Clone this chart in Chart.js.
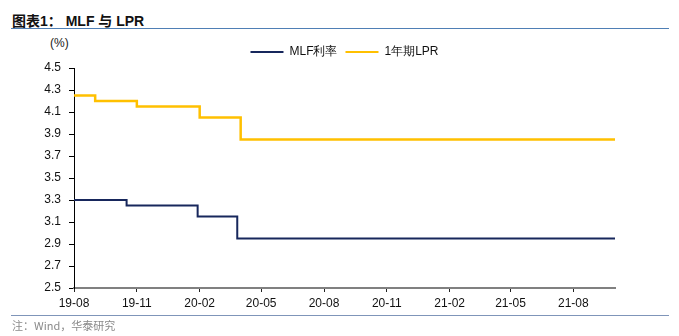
<!DOCTYPE html>
<html>
<head>
<meta charset="utf-8">
<script src="https://cdn.jsdelivr.net/npm/chart.js@4.4.0/dist/chart.umd.min.js"></script>
<style>
  html, body { margin: 0; padding: 0; background: #fff; }
  body { width: 679px; height: 336px; position: relative; overflow: hidden; font-family: "Liberation Sans", Arial, sans-serif; }
  #title { position: absolute; left: 12px; top: 10px; font-size: 14px; font-weight: bold; color: #111; font-family: "Liberation Sans", "Noto Sans CJK SC", sans-serif; }
  #titleLine { position: absolute; left: 11px; top: 28px; width: 658px; height: 0; border-top: 1.5px solid #4f7fb5; }
  #unit { position: absolute; left: 50px; top: 36px; font-size: 12px; color: #1a1a1a; }
  #footLine { position: absolute; left: 11px; top: 315px; width: 658px; height: 0; border-top: 1.5px solid #7f95b9; }
  #foot { position: absolute; left: 12px; top: 317px; font-size: 11px; color: #8a8a8a; font-family: "Noto Sans CJK SC", sans-serif; }
  #chart { position: absolute; left: 0; top: 0; }
</style>
</head>
<body>
<div id="title">图表1： MLF 与 LPR</div>
<div id="titleLine"></div>
<div id="unit">(%)</div>
<canvas id="chart" width="679" height="336"></canvas>
<div id="footLine"></div>
<div id="foot">注：Wind，华泰研究</div>
<script>
// data (rate changes, held until next change)
const mlfDates = ['2019-08-20', '2019-11-05', '2020-02-17', '2020-04-15', '2021-10-20'];
const mlfValues = [3.30, 3.25, 3.15, 2.95, 2.95];
const lprDates = ['2019-08-20', '2019-09-20', '2019-11-20', '2020-02-20', '2020-04-20', '2021-10-20'];
const lprValues = [4.25, 4.20, 4.15, 4.05, 3.85, 3.85];
const tickDates = ['2019-08-20', '2019-11-20', '2020-02-20', '2020-05-20', '2020-08-20', '2020-11-20', '2021-02-20', '2021-05-20', '2021-08-20'];
const startDate = '2019-08-20';
const endDate = '2021-10-20';

function dayNum(s) {
    const p = s.split('-');
    return Date.UTC(+p[0], +p[1] - 1, +p[2]) / 86400000;
}
function label(v) {
    const d = new Date(v * 86400000);
    return String(d.getUTCFullYear()).slice(2) + '-' + String(d.getUTCMonth() + 1).padStart(2, '0');
}
function points(dates, values) {
    return dates.map((d, i) => ({ x: dayNum(d), y: values[i] }));
}

const ctx = document.getElementById('chart');
const font = { family: '"Liberation Sans", Arial, sans-serif', size: 12 };

new Chart(ctx, {
    type: 'line',
    data: {
        datasets: [
            {
                label: 'MLF利率',
                data: points(mlfDates, mlfValues),
                borderColor: '#17275c',
                backgroundColor: '#17275c',
                borderWidth: 2,
                stepped: true,
                pointRadius: 0
            },
            {
                label: '1年期LPR',
                data: points(lprDates, lprValues),
                borderColor: '#ffc000',
                backgroundColor: '#ffc000',
                borderWidth: 2.5,
                stepped: true,
                pointRadius: 0
            }
        ]
    },
    options: {
        responsive: false,
        animation: false,
        devicePixelRatio: 1,
        layout: { padding: { left: 0, right: 64, top: 38, bottom: 0 } },
        plugins: {
            tooltip: { enabled: false },
            legend: {
                position: 'top',
                fullSize: false,
                labels: {
                    boxWidth: 33,
                    boxHeight: 2,
                    padding: 8,
                    color: '#111',
                    font: font,
                    generateLabels: (chart) => Chart.defaults.plugins.legend.labels.generateLabels(chart)
                        .map(l => Object.assign(l, { lineWidth: 0 }))
                }
            }
        },
        scales: {
            x: {
                type: 'linear',
                min: dayNum(startDate),
                max: dayNum(endDate),
                afterBuildTicks: (scale) => {
                    scale.ticks = tickDates.map(d => ({ value: dayNum(d) }));
                },
                afterFit: (scale) => { scale.height = 48; },
                ticks: {
                    callback: (v) => label(v),
                    color: '#111',
                    font: font,
                    padding: 4,
                    maxRotation: 0,
                    autoSkip: false
                },
                grid: { drawOnChartArea: false, drawTicks: true, tickLength: 4, color: '#222' },
                border: { display: true, color: '#808080', width: 2 }
            },
            y: {
                min: 2.5,
                max: 4.5,
                afterFit: (scale) => { scale.width = 74; },
                ticks: {
                    stepSize: 0.2,
                    callback: (v) => v.toFixed(1),
                    color: '#111',
                    font: font,
                    padding: 8
                },
                grid: { drawOnChartArea: false, drawTicks: true, tickLength: 5, color: '#000' },
                border: { display: true, color: '#000', width: 1 }
            }
        }
    }
});
</script>
</body>
</html>
